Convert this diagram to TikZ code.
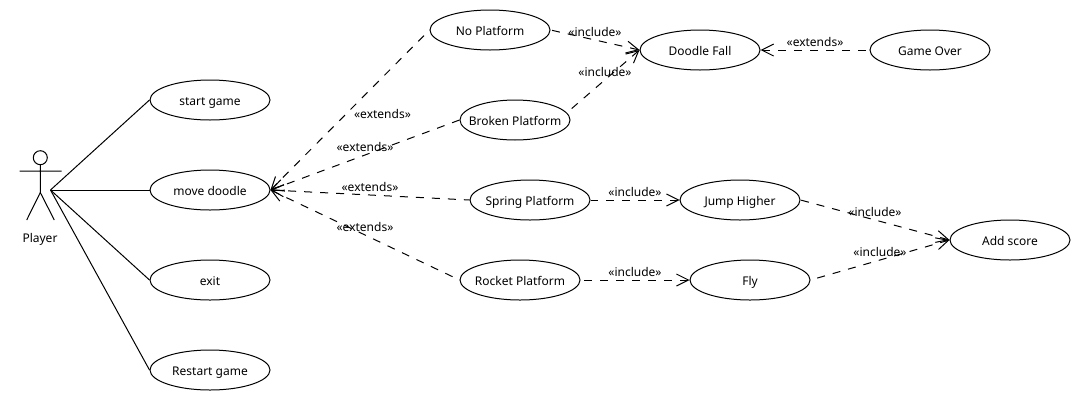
\documentclass[tikz,border=0pt]{standalone}
\usepackage{fontspec}
\setmainfont{Noto Sans}
\usetikzlibrary{arrows.meta,shapes.geometric}
\newcommand{\uctext}[1]{\makebox[0pt]{#1}}
\tikzset{
  usecase/.style={draw=black,ellipse,line width=0.75pt,minimum width=90pt,minimum height=30pt,inner sep=0pt,text height=9pt,text depth=1.5pt,font=\fontsize{9}{11}\selectfont},
  assoc/.style={draw=black,line width=0.75pt},
  dep/.style={draw=black,line width=0.75pt,dash pattern=on 6pt off 6pt,{Straight Barb[length=9pt,width=9pt,line width=0.75pt]}-},
  stereo/.style={font=\fontsize{9}{11}\selectfont,inner sep=0pt},
}
\begin{document}
\begin{tikzpicture}[x=0.75pt,y=-0.75pt]
\useasboundingbox (0,0) rectangle (1080,400);
% actor
\node[draw=black,circle,line width=0.75pt,minimum size=10.5pt,inner sep=0pt] (head) at (40.3,157.7) {};
\coordinate (armL) at (19.5,171);
\coordinate (armR) at (61.5,171);
\coordinate (hip) at (40.3,192.5);
\coordinate (legL) at (26.7,220);
\coordinate (legR) at (54.3,220);
\coordinate (actor) at (50.5,190);
\draw[assoc] (head) -- (hip) (armL) -- (armR) (legL) -- (hip) -- (legR);
\node[stereo] (player) at (40,239) {Player};
% use cases
\node[usecase] (start) at (210,100) {\uctext{start game}};
\node[usecase] (move) at (210,190) {\uctext{move doodle}};
\node[usecase] (exit) at (210,280) {\uctext{exit}};
\node[usecase] (restart) at (210,370) {\uctext{Restart game}};
\node[usecase] (noplat) at (490,30) {\uctext{No Platform}};
\node[usecase,minimum width=82.5pt] (broken) at (515,120) {\uctext{Broken Platform}};
\node[usecase] (spring) at (530,200) {\uctext{Spring Platform}};
\node[usecase] (rocket) at (520,280) {\uctext{Rocket Platform}};
\node[usecase] (fall) at (700,50) {\uctext{Doodle Fall}};
\node[usecase] (over) at (930,50) {\uctext{Game Over}};
\node[usecase] (jump) at (740,200) {\uctext{Jump Higher}};
\node[usecase] (fly) at (750,280) {\uctext{Fly}};
\node[usecase] (score) at (1010,240) {\uctext{Add score}};
% associations
\draw[assoc] (actor) -- (start.west);
\draw[assoc] (actor) -- (move.west);
\draw[assoc] (actor) -- (exit.west);
\draw[assoc] (actor) -- (restart.west);
% dependencies
\draw[dep] (move.east) -- (noplat.west);
\draw[dep] (move.east) -- (broken.west);
\draw[dep] (move.east) -- (spring.west);
\draw[dep] (move.east) -- (rocket.west);
\draw[dep] (fall.west) -- (noplat.east);
\draw[dep] (fall.west) -- (broken.8);
\draw[dep] (fall.east) -- (over.west);
\draw[dep] (jump.west) -- (spring.east);
\draw[dep] (fly.west) -- (rocket.east);
\draw[dep] (score.west) -- (jump.east);
\draw[dep] (score.west) -- (fly.east);
% labels
\node[stereo] (l1) at (382.5,114) {«extends»};
\node[stereo] (l2) at (365,147) {«extends»};
\node[stereo] (l3) at (370,187) {«extends»};
\node[stereo] (l4) at (365,227) {«extends»};
\node[stereo] (l5) at (595,32) {«include»};
\node[stereo] (l6) at (605,72) {«include»};
\node[stereo] (l7) at (815,42) {«extends»};
\node[stereo] (l8) at (635,192) {«include»};
\node[stereo] (l9) at (635,272) {«include»};
\node[stereo] (l10) at (875,212) {«include»};
\node[stereo] (l11) at (880,252) {«include»};
\end{tikzpicture}
\end{document}
